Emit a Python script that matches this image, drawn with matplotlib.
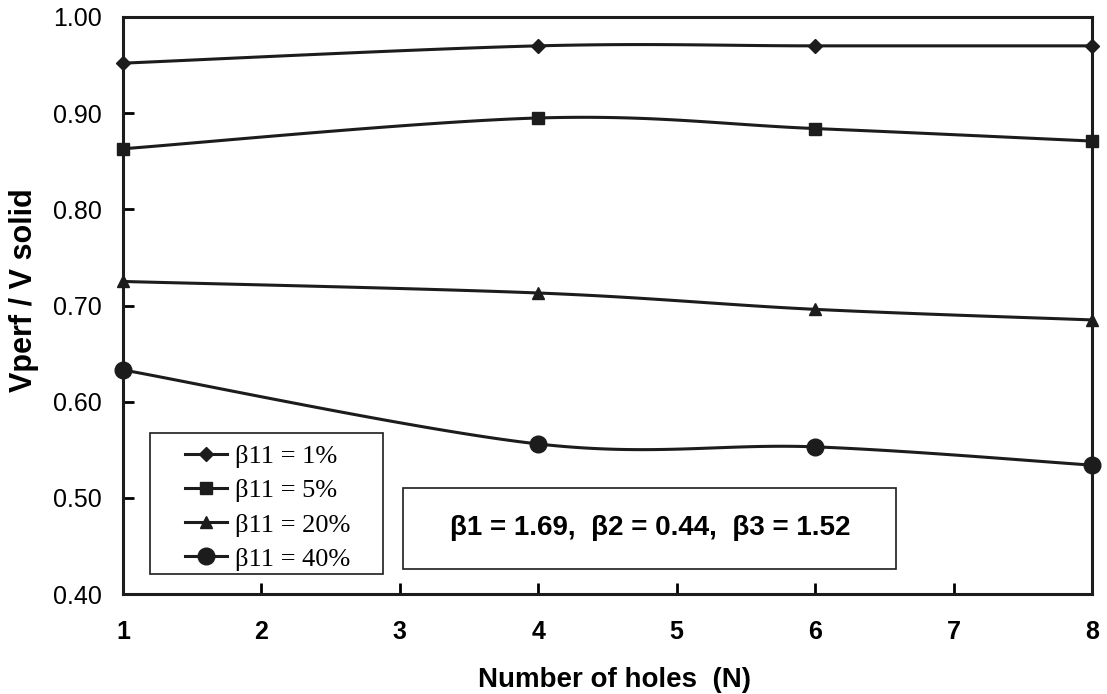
import numpy as np
import matplotlib
matplotlib.use('Agg')
import matplotlib.pyplot as plt
from matplotlib.lines import Line2D
from matplotlib.patches import Rectangle

holes = [1, 4, 6, 8]
b11_1 = [0.952, 0.970, 0.970, 0.970]
b11_5 = [0.863, 0.895, 0.884, 0.871]
b11_20 = [0.725, 0.713, 0.696, 0.685]
b11_40 = [0.633, 0.556, 0.553, 0.534]
labels = ['β11 = 1%', 'β11 = 5%', 'β11 = 20%', 'β11 = 40%']
markers = ['D', 's', '^', 'o']
msizes = [7, 9, 9, 12]
params_text = 'β1 = 1.69,  β2 = 0.44,  β3 = 1.52'

col = '#1c1c1c'
W, H = 1107, 694


def smooth(xs, ys, n=40):
    # excel-like smoothed line (catmull-rom through the points)
    px = np.r_[xs[0], xs, xs[-1]].astype(float)
    py = np.r_[ys[0], ys, ys[-1]].astype(float)
    outx, outy = [], []
    t = np.linspace(0, 1, n)
    for i in range(1, len(px) - 2):
        for p, out in ((px, outx), (py, outy)):
            p0, p1, p2, p3 = p[i - 1], p[i], p[i + 1], p[i + 2]
            seg = 0.5 * ((2 * p1) + (-p0 + p2) * t + (2 * p0 - 5 * p1 + 4 * p2 - p3) * t ** 2
                         + (-p0 + 3 * p1 - 3 * p2 + p3) * t ** 3)
            out.extend(seg)
    return outx, outy


fig = plt.figure(figsize=(W / 100, H / 100), dpi=100)
ax = fig.add_axes([123 / W, 1 - 594 / H, (1092 - 123) / W, (594 - 17) / H])

series = [b11_1, b11_5, b11_20, b11_40]
handles = []
for ys, m, ms, lab in zip(series, markers, msizes, labels):
    sx, sy = smooth(holes, ys)
    ax.plot(sx, sy, color=col, lw=2.2, clip_on=False)
    ax.plot(holes, ys, ls='none', marker=m, ms=ms, color=col, clip_on=False, zorder=5)
    handles.append(Line2D([], [], color=col, lw=2.2, marker=m, ms=ms, label=lab))

ax.set_xlim(1, 8)
ax.set_ylim(0.40, 1.00)
ax.set_xticks(range(1, 9))
ax.set_yticks(np.arange(0.4, 1.001, 0.1))
ax.set_yticklabels([f'{v:.2f}' for v in np.arange(0.4, 1.001, 0.1)],
                   family='Liberation Sans', fontsize=18)
ax.set_xticklabels([str(v) for v in range(1, 9)], family='Liberation Sans',
                   fontsize=18, fontweight='bold')
ax.tick_params(axis='x', direction='in', length=8, width=2, pad=19)
ax.tick_params(axis='y', direction='in', length=8, width=2, pad=15)
for s in ax.spines.values():
    s.set_linewidth(2.2)
    s.set_color(col)

fig.text(614 / W, 1 - 687 / H, 'Number of holes  (N)', ha='center', va='baseline',
         family='Liberation Sans', fontsize=20, fontweight='bold')
fig.text(24 / W, 1 - 290 / H, 'Vperf / V solid', ha='center', va='center', rotation=90,
         family='Liberation Sans', fontsize=22, fontweight='bold')

# legend: frame drawn separately so the padding can match
ax.add_patch(Rectangle((150 / W, 1 - 574 / H), (383 - 150) / W, (574 - 433) / H,
                       transform=fig.transFigure, facecolor='white', clip_on=False,
                       edgecolor=col, lw=1.2, zorder=6))
leg = ax.legend(handles=handles, loc='upper left',
                bbox_to_anchor=(185 / W, 1 - 445 / H),
                bbox_transform=fig.transFigure, borderaxespad=0, borderpad=0,
                prop={'family': 'Liberation Serif', 'size': 19},
                handlelength=1.6, handletextpad=0.3, labelspacing=0.4,
                frameon=False)
leg.set_zorder(7)

ax.add_patch(Rectangle((403 / W, 1 - 569 / H), (896 - 403) / W, (569 - 488) / H,
                       transform=fig.transFigure, facecolor='white', clip_on=False,
                       edgecolor=col, lw=1.2, zorder=6))
ax.text(650 / W, 1 - 528 / H, params_text, ha='center', va='center',
        transform=fig.transFigure, family='Liberation Sans', fontsize=20,
        fontweight='bold', zorder=7)

fig.savefig('out.png', dpi=100)
